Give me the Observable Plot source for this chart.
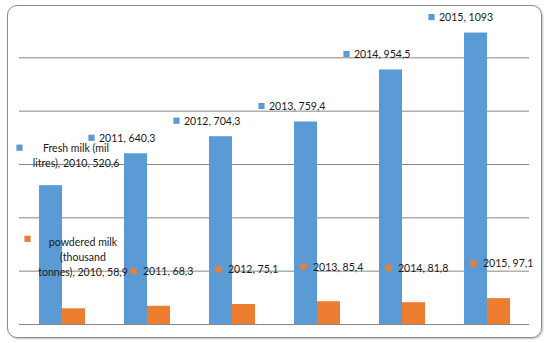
<!DOCTYPE html>
<html>
<head>
<meta charset="utf-8">
<script src="https://cdn.jsdelivr.net/npm/d3@7"></script>
<script src="https://cdn.jsdelivr.net/npm/@observablehq/plot@0.6"></script>
<style>
  html, body { margin: 0; padding: 0; background: #fff; }
  #wrap { position: relative; width: 549px; height: 343px; overflow: hidden; }
  #frame { position: absolute; left: 7px; top: 5px; width: 533px; height: 331px;
           border: 1px solid #8a8a8a; border-radius: 10px;
           box-shadow: 1px 1px 2px rgba(0,0,0,0.25); pointer-events: none; }
  #chart { position: absolute; left: 0; top: 0; }
</style>
</head>
<body>
<div id="wrap"><div id="chart"></div><div id="frame"></div></div>
<script>
// ---- data ----
const years = [2010, 2011, 2012, 2013, 2014, 2015];
const freshMilk = [520.6, 640.3, 704.3, 759.4, 954.5, 1093];
const powderedMilk = [58.9, 68.3, 75.1, 85.4, 81.8, 97.1];
const seriesKeys = ["fresh", "powdered"];
const seriesNameLines = [["Fresh milk (mil", "litres)"], ["powdered milk", "(thousand", "tonnes)"]];
const seriesColors = ["#5B9BD5", "#ED7D31"];
const gridTicks = [0, 200, 400, 600, 800, 1000];

// ---- table ----
const fmt = v => String(v).replace(".", ",");
const rows = [];
years.forEach((yr, i) => {
  [freshMilk, powderedMilk].forEach((vals, s) => {
    const base = `${yr}, ${fmt(vals[i])}`;
    rows.push({
      year: yr, series: seriesKeys[s], value: vals[i], first: i === 0,
      label: i === 0 ? seriesNameLines[s].join("\n") + ", " + base : base
    });
  });
});
const pick = (s, first) => rows.filter(d => d.series === s && d.first === first);

const FONT = "Lato, sans-serif";
const common = {fx: "year", x: "series", y: "value"};
const txt = {fill: "#1a1a1a", fontFamily: FONT, fontSize: 12};

const chart = Plot.plot({
  width: 549, height: 343,
  marginLeft: 19, marginRight: 20, marginTop: 4, marginBottom: 19,
  style: {background: "transparent", fontFamily: FONT, fontSize: "12px"},
  fx: {domain: years, padding: 0, axis: null, label: null},
  x: {domain: seriesKeys, paddingInner: 0, paddingOuter: 0.771, axis: null},
  y: {domain: [0, 1200], axis: null},
  color: {domain: seriesKeys, range: seriesColors},
  marks: [
    Plot.ruleY(gridTicks, {stroke: "#878787", strokeOpacity: 1, strokeWidth: 1}),
    Plot.barY(rows, {...common, fill: "series"}),
    // fresh milk labels (2011-2015)
    Plot.dot(pick("fresh", false), {...common, fill: "series", symbol: "square", r: 3.5, dx: -44.5, dy: -16}),
    Plot.text(pick("fresh", false), {...common, ...txt, text: "label", textAnchor: "start", dx: -37, dy: -16}),
    // powdered milk labels (2011-2015)
    Plot.dot(pick("powdered", false), {...common, fill: "series", symbol: "square", r: 3.5, dx: -25.5, dy: -35}),
    Plot.text(pick("powdered", false), {...common, ...txt, text: "label", textAnchor: "start", dx: -16, dy: -35}),
    // first-year labels with series names
    Plot.dot(pick("fresh", true), {...common, fill: "series", symbol: "square", r: 3.5, dx: -31.5, dy: -38}),
    Plot.text(pick("fresh", true), {...common, ...txt, text: "label", textAnchor: "middle", lineHeight: 1.25, dx: 25, dy: -31}),
    Plot.dot(pick("powdered", true), {...common, fill: "series", symbol: "square", r: 3.5, dx: -46.5, dy: -70}),
    Plot.text(pick("powdered", true), {...common, ...txt, text: "label", textAnchor: "middle", lineHeight: 1.25, dx: 9, dy: -53})
  ]
});
// slightly condense the label glyphs (scale about each text's own anchor point)
d3.select(chart).selectAll("text").each(function () {
  const t = this.getAttribute("transform");
  if (t) this.setAttribute("transform", t + " scale(0.88,1)");
});
document.getElementById("chart").appendChild(chart);
</script>
</body>
</html>
